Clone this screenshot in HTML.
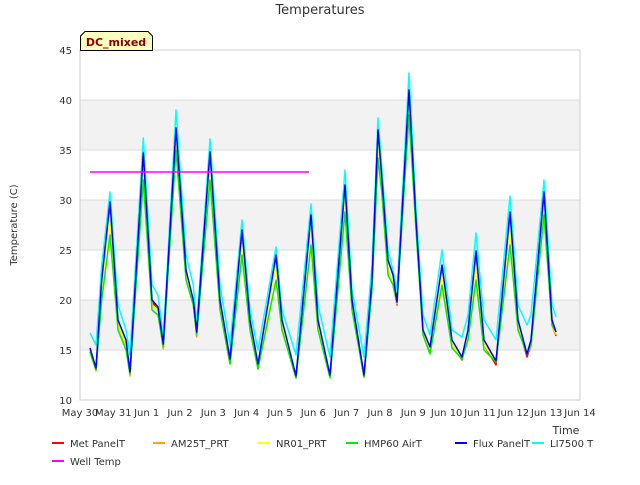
<!DOCTYPE html>
<html><head><meta charset="utf-8"><style>
body{margin:0;background:#fff;font-family:"Liberation Sans","DejaVu Sans",sans-serif;}
svg text{font-family:"DejaVu Sans","Liberation Sans",sans-serif;}
</style></head><body>
<svg id="chart" width="640" height="480" xmlns="http://www.w3.org/2000/svg">
<rect width="640" height="480" fill="#fff"/>
<g id="bands"></g>
<g id="grid"></g>
<g id="series"></g>
<g id="axes"></g>
<text x="320" y="14" text-anchor="middle" font-size="13" fill="#333">Temperatures</text>
<text transform="translate(17,225) rotate(-90)" text-anchor="middle" font-size="10" fill="#333">Temperature (C)</text>
<text x="566" y="434" text-anchor="middle" font-size="11" fill="#333">Time</text>
<g>
<path d="M80.5,50.5 V36 L85,31.5 H148 L152.5,36 V50.5 Z" fill="#ffffc0" stroke="#000" stroke-width="1"/>
<text x="116" y="46" text-anchor="middle" font-size="11" font-weight="bold" fill="#8b0000">DC_mixed</text>
</g>
<g id="legend"></g>
</svg>
<script>
const times=[0.3,0.48,0.65,0.9,1.14,1.38,1.5,1.9,2.16,2.34,2.5,2.88,3.18,3.4,3.5,3.9,4.2,4.5,4.86,5.1,5.34,5.88,6.06,6.48,6.93,7.14,7.5,7.95,8.16,8.52,8.76,8.94,9.06,9.24,9.39,9.51,9.87,10.08,10.29,10.5,10.86,11.16,11.46,11.64,11.88,12.12,12.48,12.9,13.14,13.41,13.53,13.92,14.16,14.28];
const metPanel=[15,13,21.5,29.5,17.5,15.5,12.6,34.5,19.8,19,15.2,37,22.8,19.8,16.5,34.5,19.5,13.8,26.5,17.5,13.3,24,17.5,12.2,28,17.5,12.3,31,19.5,12.3,21.5,36.8,31.5,23,21.5,19.5,40.5,27.5,16.8,15,23.2,15.5,14,16.5,24.5,15.5,13.5,28.5,17.5,14.3,15.5,30.5,17.5,16.4];
const am25t=[14.8,12.9,21.5,29,17.5,15.3,12.4,34.8,19.5,19,15.1,37,22.5,19.5,16.3,34.5,19.5,13.6,26,17.3,13.1,24,17.5,12.3,28,17.3,12.3,31,19.5,12.4,21.5,36.5,31.5,23,21.5,19.6,40.5,27.5,16.8,15.1,23,15.5,14.1,16.5,24,15.5,13.8,28,17.5,14.6,15.5,30,17.5,16.5];
const nr01=[15,13.1,21,28.5,17.5,15.5,12.6,34,19.5,19,15.3,36,22.5,19.5,16.5,33.5,19.5,13.8,25.5,17.3,13.3,23.5,17.5,12.3,27.5,17.5,12.4,30.5,19.5,12.5,21.5,35.5,31.5,23,21.5,19.7,40,27.5,16.8,15.1,22.5,15.5,14.1,16.5,23.5,15.5,13.9,27.5,17.5,14.6,15.5,29.5,17.5,16.6];
const hmp60=[14.8,13,20,26.5,17,15,12.6,32,19,18.5,15.3,35,22,19.5,16.5,32,19,13.6,24.5,17,13.1,22,17,12.2,25.5,17,12.2,28.8,19,12.3,21,34.2,30.5,22.5,21.5,19.8,38.5,27,16.5,14.6,21.5,15.2,14.1,16,22,15,13.8,25.5,17,14.6,15.5,28.5,17.5,16.8];
const fluxPanel=[15.2,13.2,22,29.8,18,16,12.8,34.7,20,19.3,15.6,37.2,23,20,16.8,34.8,20,14.1,27,18,13.6,24.5,18,12.4,28.5,18,12.5,31.5,20,12.5,22,37,32,24,22.5,19.8,41,28,17,15.3,23.5,16,14.3,17,24.9,16,13.9,28.8,18,14.6,16,30.8,18,16.8];
const li7500=[16.7,15.5,23.5,30.8,19.5,17,14.5,36.2,21.5,20.5,16.2,39,24.5,21.5,17.5,36.1,21.5,15.5,28,19,15,25.3,19,14.5,29.6,19.5,14.3,33,21,14.3,23.5,38.2,33,25,23,21,42.7,29,18.5,16.5,25,17,16.3,18.5,26.7,18,16,30.4,19.5,17.5,18.5,32,19.5,18.3];
const wellTimes=[0.3,6.87];
const wellTemp=[32.8,32.8];
const yTicks=[10,15,20,25,30,35,40,45];
const xTickLabels=["May 30","May 31","Jun 1","Jun 2","Jun 3","Jun 4","Jun 5","Jun 6","Jun 7","Jun 8","Jun 9","Jun 10","Jun 11","Jun 12","Jun 13","Jun 14"];

const X0=80,X1=580,Y0=400,Y1=50;
const xs=d=>X0+(d/15)*(X1-X0);
const ys=v=>Y0-(v-10)/35*(Y0-Y1);
const NS="http://www.w3.org/2000/svg";
function mk(tag,parent,attrs){const e=document.createElementNS(NS,tag);for(const k in attrs)e.setAttribute(k,attrs[k]);parent.appendChild(e);return e;}
const bands=document.getElementById('bands'),grid=document.getElementById('grid'),axes=document.getElementById('axes'),ser=document.getElementById('series'),leg=document.getElementById('legend');
const bg=mk('rect',bands,{x:X0,y:Y1,width:X1-X0,height:Y0-Y1,fill:'#fff'});


for(let i=0;i<yTicks.length-1;i++){
  if(i%2===1){const b=mk('rect',bands,{x:X0,y:ys(yTicks[i+1]),width:X1-X0,height:ys(yTicks[i])-ys(yTicks[i+1]),fill:'#f2f2f2'});
  
  }
}
yTicks.forEach(v=>{
  const l=mk('line',grid,{x1:X0,x2:X1,y1:ys(v),y2:ys(v),stroke:'#dcdcdc','stroke-width':1});
  
  
  const t=mk('text',axes,{x:X0-8,y:ys(v)+4,'text-anchor':'end','font-size':10,fill:'#333'});
  t.textContent=v;
  
  
});
xTickLabels.forEach((s,i)=>{
  const t=mk('text',axes,{x:xs(i),y:Y0+16,'text-anchor':'middle','font-size':10,fill:'#333'});
  t.textContent=s;
  
  
});
const fr=mk('rect',axes,{x:X0,y:Y1,width:X1-X0,height:Y0-Y1,fill:'none',stroke:'#ccc'});


const seriesList=[
 ['met-panelt','Met PanelT','#ff0000',metPanel],
 ['am25t-prt','AM25T_PRT','#ffa500',am25t],
 ['nr01-prt','NR01_PRT','#ffff00',nr01],
 ['hmp60-airt','HMP60 AirT','#00ee00',hmp60],
 ['flux-panelt','Flux PanelT','#0000ff',fluxPanel],
 ['li7500-t','LI7500 T','#00ffff',li7500]
];
function line(vals,tms,color,name){
  const p=mk('polyline',ser,{points:vals.map((v,i)=>xs(tms[i]).toFixed(1)+','+ys(v).toFixed(1)).join(' '),fill:'none',stroke:color,'stroke-width':1.5,'stroke-linejoin':'round'});
  
  
}
[5,0,1,2,3,4].forEach(i=>{const s=seriesList[i];line(s[3],times,s[2],s[0]+'-line');});
line(wellTemp,wellTimes,'#ff00ff','well-temp-line');
const legPos=[[52,443],[153,443],[258,443],[346,443],[455,443],[532,443]];
seriesList.concat([['well-temp','Well Temp','#ff00ff']]).forEach((s,i)=>{
  const [x,y]=i<6?legPos[i]:[52,461];
  const g=mk('g',leg,{});
  
  
  mk('line',g,{x1:x,x2:x+12,y1:y,y2:y,stroke:s[2],'stroke-width':2});
  const t=mk('text',g,{x:x+18,y:y+4,'font-size':10,fill:'#333'});
  t.textContent=s[1];
});
</script>
</body></html>
